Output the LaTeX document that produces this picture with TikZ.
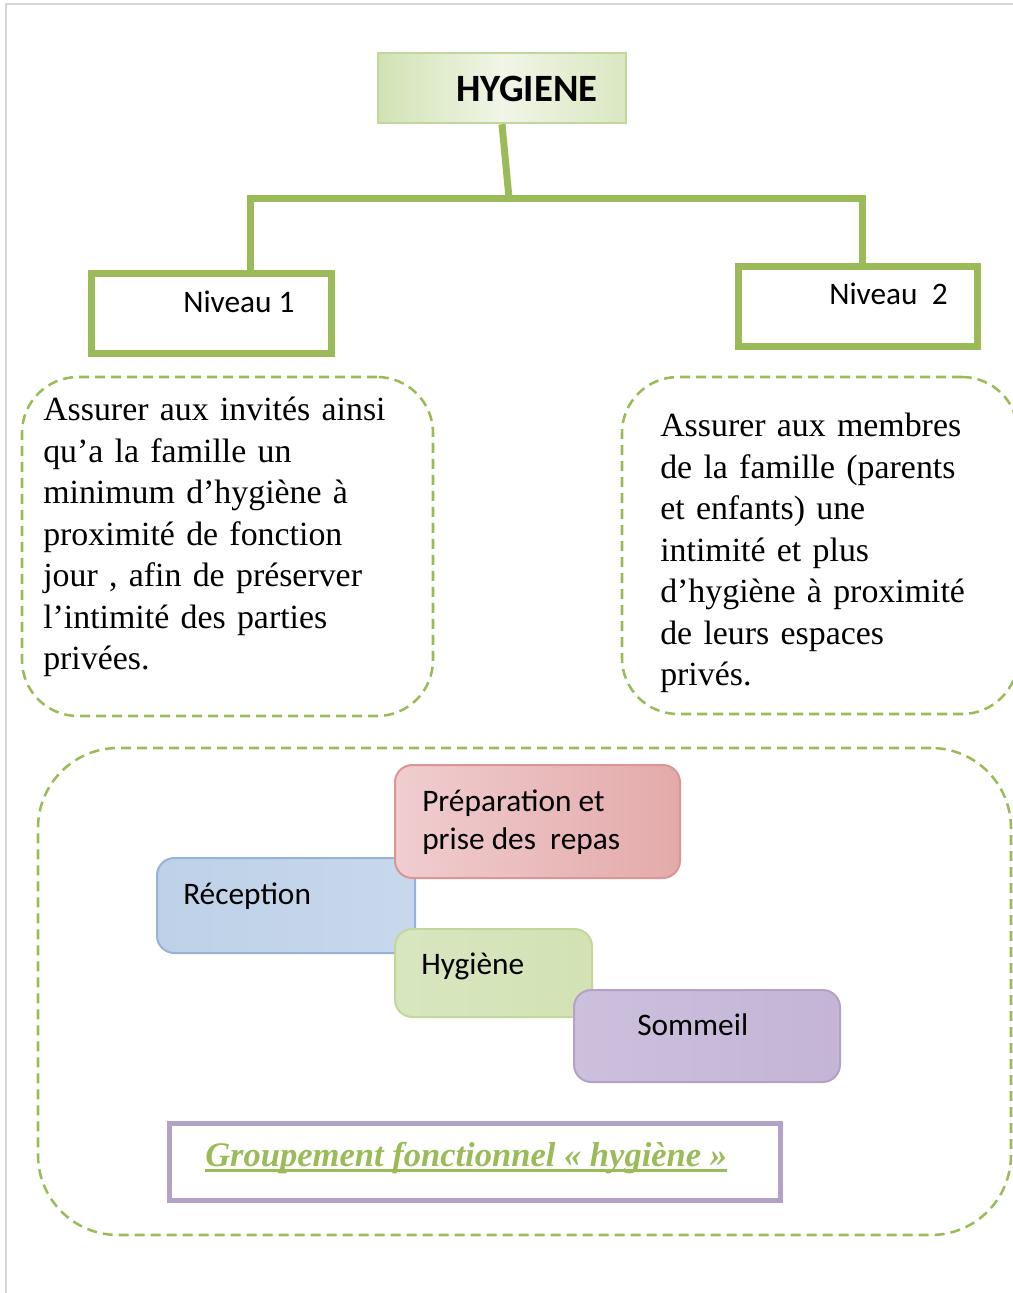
\documentclass[tikz,border=0pt]{standalone}
\usepackage{fontspec}
\setmainfont{Liberation Serif}
\newfontfamily\calib{Carlito}
\usetikzlibrary{positioning, fit, calc}
\definecolor{olive}{RGB}{155,187,89}
\definecolor{paleolive}{RGB}{195,214,155}
\definecolor{pagegray}{RGB}{214,214,214}
\definecolor{blueedge}{RGB}{149,179,215}
\definecolor{rededge}{RGB}{217,150,148}
\definecolor{purpleedge}{RGB}{179,162,199}

\begin{document}
\begin{tikzpicture}[x=0.75pt,y=-0.75pt,
  link/.style={draw=olive, line width=5.25pt},
  levelbox/.style={draw=olive, line width=5.25pt, fill=white, inner sep=0pt},
  dashframe/.style={draw=olive, line width=1.9pt, dash pattern=on 7.5pt off 4.5pt, rounded corners=42pt, inner sep=0pt},
  roombox/.style={line width=1.5pt, rounded corners=13pt, inner sep=0pt},
  sanslabel/.style={font=\calib\fontsize{23.5}{28.5}\selectfont, inner sep=0pt, align=left},
  seriftext/.style={font=\fontsize{25.4}{31.1}\selectfont, inner sep=0pt, align=left, text width=390pt}]

\useasboundingbox (0,0) rectangle (1013,1293);

% page edge
\draw[pagegray, line width=0.8pt] (6,1293) -- (6,4) -- (1013,4);

% Title and levels
\node[fit={(378,53) (626,123)}, draw=paleolive, line width=1.9pt, inner sep=0pt,
      left color={rgb,255:red,210;green,226;blue,180}, right color={rgb,255:red,218;green,231;blue,194},
      middle color={rgb,255:red,240;green,245;blue,230}] (hyg) {};
\node[font=\calib\bfseries\fontsize{29}{34}\selectfont, inner sep=0pt, anchor=base west] (hygt) at (456,101) {HYGIENE};

\node[levelbox, fit={(91.5,273.5) (331.5,353.5)}] (niv1) {};
\node[levelbox, fit={(738.5,266.5) (977.5,346.5)}] (niv2) {};
\node[sanslabel, anchor=base west] (niv1t) at (183,312) {Niveau 1};
\node[sanslabel, anchor=base west] (niv2t) at (829,304) {Niveau\ \ 2};

\coordinate (jM) at (509,198);
\coordinate (jL) at (250,198);
\coordinate (jR) at (862,198);
\draw[link] (hyg.south) -- (jM);
\draw[link] (niv1.north -| jL) -- (jL) -- (jR) -- (niv2.north -| jR);

% Descriptions
\node[dashframe, fit={(22,377) (433,716)}] (frame1) {};
\node[dashframe, fit={(622,377) (1018,714)}] (frame2) {};
\node[seriftext, anchor=north west] (desc1) at (43,397) {Assurer aux invités ainsi\\
qu’a la famille un\\ minimum d’hygiène à\\ proximité de fonction\\
jour , afin de préserver\\ l’intimité des parties\\ privées.};
\node[seriftext, anchor=north west] (desc2) at (660,413) {Assurer aux membres\\
de la famille (parents\\ et enfants) une\\ intimité et plus\\
d’hygiène à proximité\\ de leurs espaces\\ privés.};

% Groupement
\node[dashframe, rounded corners=60pt, fit={(38,748) (1011,1235)}] (frame3) {};

\node[roombox, draw=blueedge, fit={(157,858) (415,953)},
      left color={rgb,255:red,190;green,209;blue,232}, middle color={rgb,255:red,224;green,232;blue,244},
      right color={rgb,255:red,200;green,216;blue,236}] (recep) {};
\node[roombox, draw=rededge, fit={(395,765) (680,878)},
      left color={rgb,255:red,240;green,205;blue,207}, middle color={rgb,255:red,245;green,222;blue,224},
      right color={rgb,255:red,228;green,170;blue,170}] (repas) {};
\node[roombox, draw=paleolive, fit={(395,929) (592,1017)},
      left color={rgb,255:red,216;green,230;blue,192}, middle color={rgb,255:red,237;green,243;blue,226},
      right color={rgb,255:red,210;green,226;blue,180}] (hygiene) {};
\node[roombox, draw=purpleedge, fit={(574,990) (840,1082)},
      left color={rgb,255:red,204;green,192;blue,221}, middle color={rgb,255:red,232;green,227;blue,240},
      right color={rgb,255:red,196;green,180;blue,214}] (sommeil) {};

\node[sanslabel, anchor=west] (recept) at (183,896) {Réception};
\node[sanslabel, anchor=west] (repast) at (422,822) {Préparation et\\ prise des\ \ repas};
\node[sanslabel, anchor=west] (hygienet) at (421,966) {Hygiène};
\node[sanslabel, anchor=west] (sommeilt) at (637,1025) {Sommeil};

\node[draw=purpleedge, line width=3.75pt, fill=white, inner sep=0pt, fit={(169.5,1123.5) (780.5,1200.5)}] (grp) {};
\node[font=\bfseries\itshape\fontsize{25.9}{31.1}\selectfont, text=olive, inner sep=0pt, anchor=base west] (grpt) at (205,1166) {Groupement fonctionnel « hygiène »};
\draw[olive, line width=2.25pt] ($(grpt.base west)+(0,4)$) -- ($(grpt.base east)+(0,4)$);

\end{tikzpicture}
\end{document}
